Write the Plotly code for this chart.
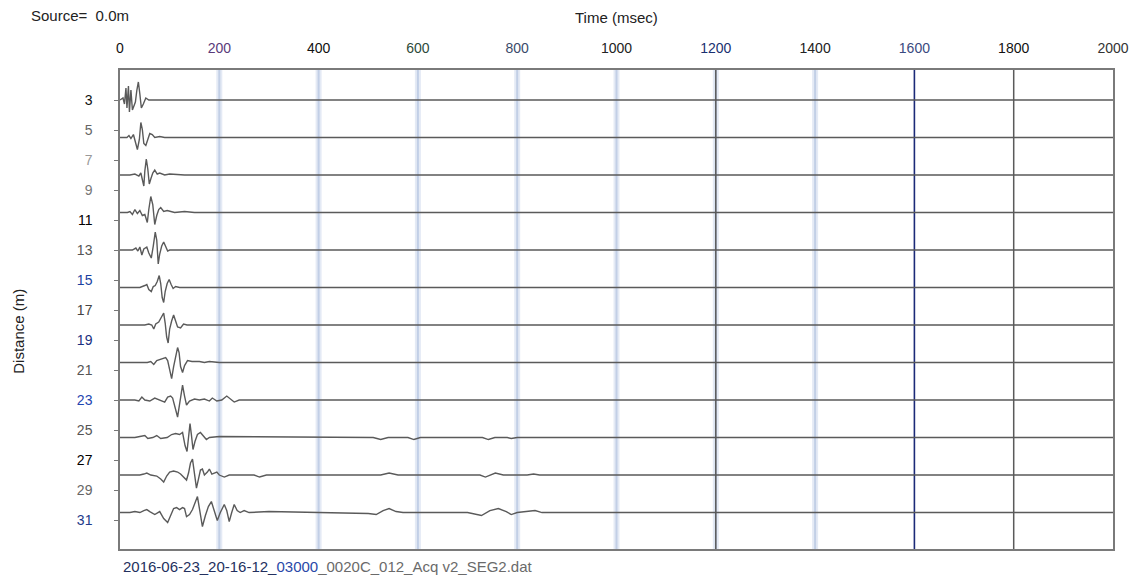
import plotly.graph_objects as go

# ---------------- data ----------------
trace_distances = [3.0, 5.5, 8.0, 10.5, 13.0, 15.5, 18.0, 20.5, 23.0, 25.5, 28.0, 30.5]

t_00 = [0, 6, 9, 12, 14, 17, 19, 22, 25, 28, 31, 34, 37, 40, 43, 47, 52, 58, 2000]
a_00 = [0, 2, -4, 12, -8, 14, -12, 10, -10, -6, -2, 10, 18, 6, -8, -4, 2, 0, 0]

t_01 = [0, 14, 18, 22, 27, 31, 35, 39, 42, 45, 48, 52, 56, 60, 65, 70, 80, 90, 2000]
a_01 = [0, 0, 2, -1, 3, -6, -12, -2, 15, 8, -6, -8, -2, 4, 3, 0, 1, 0, 0]

t_02 = [0, 20, 30, 38, 42, 45, 48, 50, 53, 56, 59, 62, 66, 70, 75, 80, 90, 100, 130, 2000]
a_02 = [0, 0, 1, -1, 2, -5, -11, 4, 16, 6, -9, -4, 2, 5, 1, 2, 0, 1, 0, 0]

t_03 = [0, 15, 20, 25, 30, 35, 40, 45, 50, 55, 58, 62, 66, 70, 74, 78, 82, 88, 95, 110, 130, 150, 2000]
a_03 = [0, 0, 1, -2, 3, -1, 2, -3, -2, -10, 3, 16, 8, -12, -3, 3, 5, 1, 2, 0, 1, 0, 0]

t_04 = [0, 25, 32, 36, 40, 44, 48, 54, 58, 63, 67, 71, 74, 77, 80, 84, 88, 92, 96, 100, 2000]
a_04 = [0, 0, 2, -1, 3, -5, 1, 3, -3, -8, 4, 18, 10, -14, -4, 4, 8, 3, -1, 0, 0]

t_05 = [0, 40, 50, 54, 58, 63, 67, 71, 75, 79, 82, 85, 88, 91, 95, 99, 103, 107, 112, 120, 2000]
a_05 = [0, 0, 2, 3, -2, -4, 1, 2, 6, 12, 4, -10, -15, -4, 4, 8, 3, -1, 1, 0, 0]

t_06 = [0, 50, 58, 64, 68, 72, 78, 84, 88, 91, 94, 97, 100, 104, 108, 112, 116, 122, 128, 135, 2000]
a_06 = [0, 0, 1, 0, -4, 1, 3, 9, 12, 2, -12, -18, -4, 4, 10, 4, -2, -3, 1, 0, 0]

t_07 = [0, 55, 62, 68, 74, 80, 86, 92, 96, 100, 104, 108, 112, 116, 119, 122, 126, 130, 136, 145, 160, 170, 180, 200, 2000]
a_07 = [0, 0, 1, -2, 2, 3, 4, 5, 2, -6, -16, -4, 6, 15, 10, -4, -10, -3, 2, 1, 1, 0, 1, 0, 0]

t_08 = [0, 30, 38, 44, 50, 60, 70, 80, 90, 96, 102, 106, 110, 116, 120, 123, 126, 130, 134, 140, 150, 160, 170, 180, 186, 195, 205, 215, 222, 230, 240, 2000]
a_08 = [0, 0, -1, 3, 0, -1, 2, 0, -2, 3, 4, 2, -6, -17, -4, 8, 15, 4, -5, -1, 1, 0, 1, -1, 2, -1, 0, 4, 1, -2, 0, 0]

t_09 = [0, 30, 40, 50, 56, 66, 74, 82, 95, 104, 112, 120, 126, 131, 135, 138, 141, 144, 147, 151, 156, 162, 168, 174, 180, 200,
        510, 525, 540, 580, 592, 605, 730, 742, 755, 780, 788, 800, 2000]
a_09 = [0, 0, 1, 2, -1, 0, 2, -1, 0, 3, 4, 3, 5, -8, -14, 4, 14, 2, -12, -4, 3, 5, 1, -2, 0, 1,
        0, -2, 0, 0, -2, 0, 0, -2, 0, 0, -1, 0, 0]

t_10 = [0, 40, 48, 54, 62, 74, 82, 88, 94, 100, 108, 116, 122, 128, 134, 138, 142, 146, 150, 154, 158, 162, 166, 170, 176, 180,
        185, 190, 195, 200, 210, 220, 270, 281, 295, 525, 542, 560, 725, 736, 756, 772, 820, 833, 845, 2000]
a_10 = [0, 0, 1, 2, 0, -1, -4, -7, -1, 3, 4, 3, 1, -2, -5, 2, 12, 16, 2, -13, -4, 5, 6, 0, 3, 6,
        1, 2, 3, 0, -2, 0, 0, -2, 0, 0, 2, 0, 0, -2, 2, 0, 0, 1, 0, 0]

t_11 = [0, 20, 30, 40, 48, 54, 60, 70, 80, 88, 96, 102, 108, 114, 120, 126, 130, 134, 140, 146, 152, 156, 160, 166, 172, 178,
        184, 190, 196, 202, 210, 215, 220, 225, 230, 236, 242, 250, 260, 300, 400, 500, 516, 530, 542, 556, 570, 700, 728, 745,
        762, 778, 788, 800, 836, 850, 2000]
a_11 = [0, 0, 1, 0, 2, 3, 1, -2, 1, -6, -10, -2, 4, 5, 3, 5, 4, -4, -2, 3, 12, 16, 4, -14, -3, 6,
        11, 2, -8, 0, 8, 2, -9, 0, 8, 2, 0, 2, 0, 1, 0, -1, -2, 2, 4, 1, 0, 0, -3, 2,
        4, 1, -2, 0, 2, 0, 0]

trace_times = [t_00, t_01, t_02, t_03, t_04, t_05, t_06, t_07, t_08, t_09, t_10, t_11]
trace_amps = [a_00, a_01, a_02, a_03, a_04, a_05, a_06, a_07, a_08, a_09, a_10, a_11]

x_tick_vals = [0, 200, 400, 600, 800, 1000, 1200, 1400, 1600, 1800, 2000]
x_tick_colors = ["#111111", "#5a3a7a", "#111111", "#2d4a3a", "#3a4a6a", "#222222",
                 "#1a3070", "#222222", "#3a4a80", "#111111", "#333333"]
y_tick_vals = [3, 5, 7, 9, 11, 13, 15, 17, 19, 21, 23, 25, 27, 29, 31]
y_tick_colors = ["#111111", "#666666", "#999999", "#777777", "#000000", "#555555", "#1a3fa0",
                 "#444444", "#1a2f80", "#555555", "#1f45b0", "#555555", "#000000", "#666666", "#233a8a"]

pale_grid = [200, 400, 600, 800, 1000, 1200, 1400]
dark_grid = [1200, 1800]
navy_grid = [1600]

gain = 1.0 / 15.0  # amplitude units -> metres of offset

# ---------------- figure ----------------
fig = go.Figure()

for d, ts, amps in zip(trace_distances, trace_times, trace_amps):
    fig.add_trace(go.Scatter(
        x=ts, y=[d - a * gain for a in amps], mode="lines",
        line=dict(color="#5a5a5a", width=1.4),
        hoverinfo="skip", showlegend=False))

shapes = []
for g in pale_grid:
    shapes.append(dict(type="line", xref="x", yref="paper", x0=g, x1=g, y0=0, y1=1,
                       line=dict(color="rgba(225,232,244,0.9)", width=6), layer="below"))
    shapes.append(dict(type="line", xref="x", yref="paper", x0=g, x1=g, y0=0, y1=1,
                       line=dict(color="rgba(190,204,228,0.9)", width=2), layer="below"))
for g in dark_grid:
    shapes.append(dict(type="line", xref="x", yref="paper", x0=g, x1=g, y0=0, y1=1,
                       line=dict(color="#5a5a5a", width=1.5), layer="below"))
for g in navy_grid:
    shapes.append(dict(type="line", xref="x", yref="paper", x0=g, x1=g, y0=0, y1=1,
                       line=dict(color="#1c2a78", width=1.6), layer="below"))

x_tick_text = [f'<span style="color:{c}">{v}</span>' for v, c in zip(x_tick_vals, x_tick_colors)]
y_tick_text = [f'<span style="color:{c}">{v}</span>' for v, c in zip(y_tick_vals, y_tick_colors)]

font_family = "Liberation Sans, Arial, sans-serif"

fig.update_layout(
    width=1141, height=578,
    margin=dict(l=120, r=21, t=70, b=29),
    paper_bgcolor="white", plot_bgcolor="white",
    font=dict(family=font_family, size=14, color="#222222"),
    shapes=shapes,
    xaxis=dict(
        range=[0, 2000], side="top", tickvals=x_tick_vals, ticktext=x_tick_text,
        showgrid=False, zeroline=False, showline=True, linecolor="#7a7a7a", linewidth=1.5,
        mirror=True, ticks="", ticklabelstandoff=10, tickfont=dict(size=14, color="#222")),
    yaxis=dict(
        range=[32.93, 1.0], tickvals=y_tick_vals, ticktext=y_tick_text,
        showgrid=False, zeroline=False, showline=True, linecolor="#7a7a7a", linewidth=1.5,
        mirror=True, ticks="outside", ticklen=4, tickcolor="#777", ticklabelstandoff=19,
        tickfont=dict(size=14, color="#222")),
    annotations=[
        dict(text="Source=  0.0m", xref="paper", yref="paper", x=-0.092, y=1.113,
             xanchor="left", yanchor="middle", showarrow=False,
             font=dict(size=15, color="#222")),
        dict(text="Time (msec)", xref="paper", yref="paper", x=0.5, y=1.11,
             xanchor="center", yanchor="middle", showarrow=False,
             font=dict(size=15, color="#222")),
        dict(text="Distance (m)", xref="paper", yref="paper", x=-0.103, y=0.455,
             xanchor="center", yanchor="middle", showarrow=False, textangle=-90,
             font=dict(size=15, color="#222")),
        dict(text='<span style="color:#23305e">2016-06-23_20-16-12_</span>'
                  '<span style="color:#2a48a8">03000</span>'
                  '<span style="color:#6a6a6a">_0020C_012_Acq v2_SEG2.dat</span>',
             xref="paper", yref="paper", x=0.001, y=-0.0355,
             xanchor="left", yanchor="middle", showarrow=False,
             font=dict(size=15)),
    ],
)

fig.write_html("out.html")
